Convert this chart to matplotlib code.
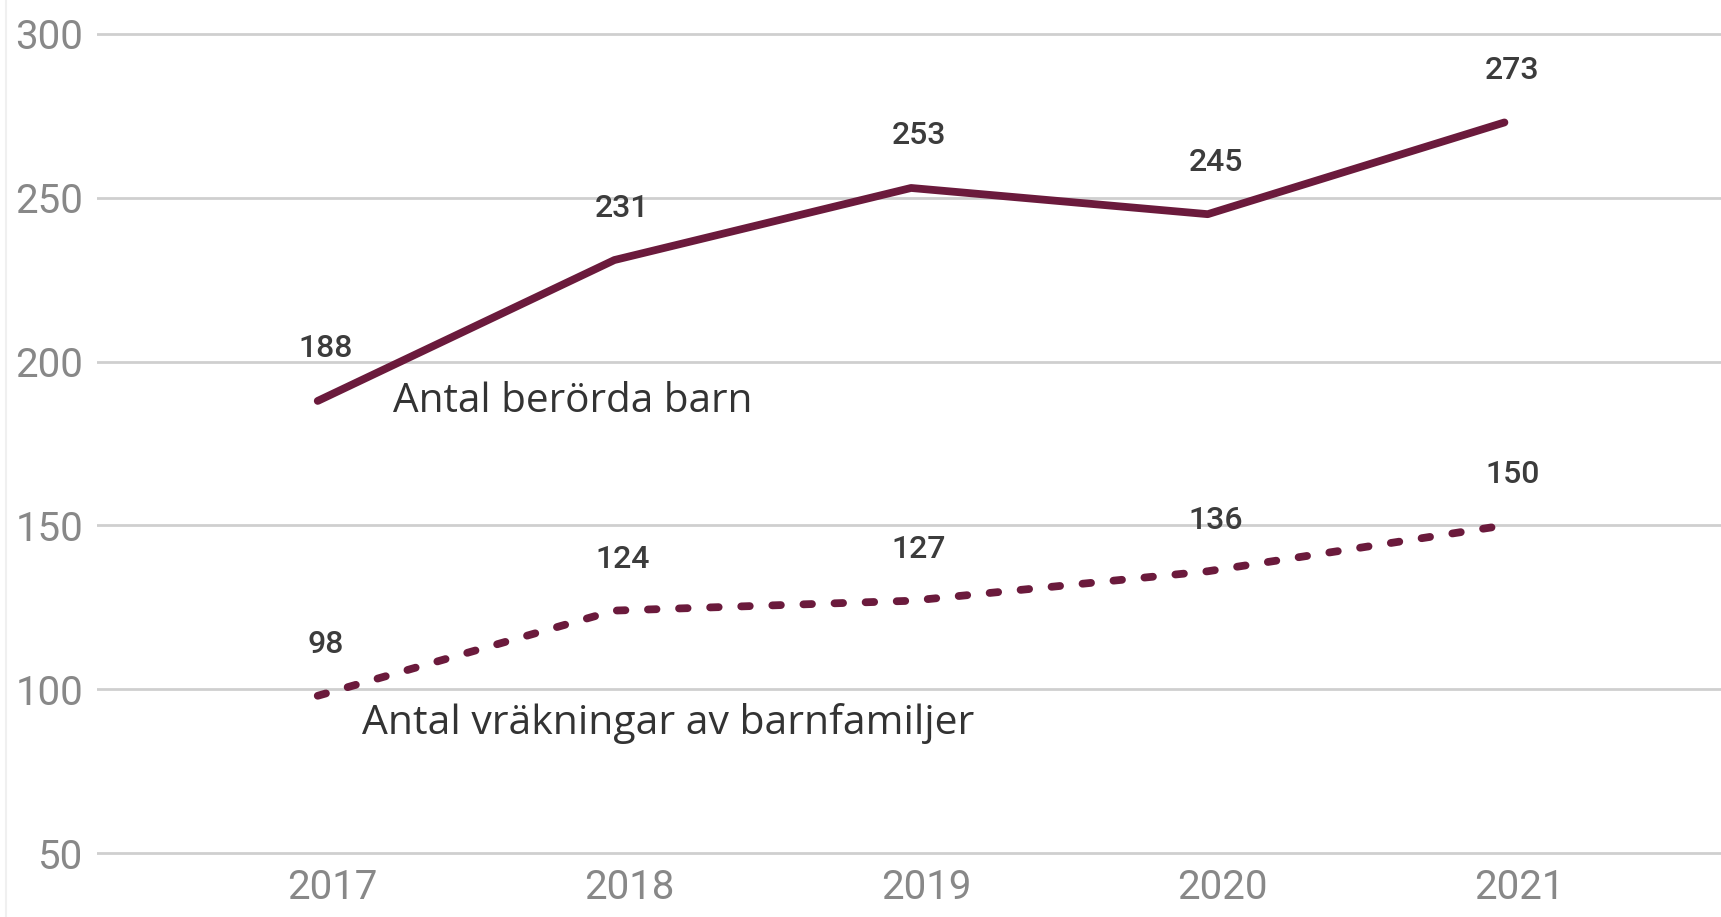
import matplotlib
matplotlib.use("Agg")
import matplotlib.pyplot as plt
from matplotlib.lines import Line2D
import matplotlib.transforms as mtransforms

years = [2017, 2018, 2019, 2020, 2021]
children = [188, 231, 253, 245, 273]
evictions = [98, 124, 127, 136, 150]
y_ticks = [50, 100, 150, 200, 250, 300]
label_children = "Antal berörda barn"
label_evictions = "Antal vräkningar av barnfamiljer"

color = "#6b1a3c"

fig = plt.figure(figsize=(17.21, 9.17), dpi=100)
ax = fig.add_axes([97 / 1721, 0.0519, 1 - 97 / 1721, 0.9289])

ax.plot(years, children, color=color, lw=5.6, solid_capstyle="round", solid_joinstyle="round")
ax.plot(years, evictions, color=color, lw=5.6, dash_capstyle="round",
        linestyle=(0, (1.1, 2.9)))

for x, y in zip(years, children):
    ax.annotate(str(y), (x, y), xytext=(8, 52), textcoords="offset pixels",
                ha="center", va="center", fontsize=23, fontfamily="Roboto",
                fontweight="medium", color="#3c3c3c")
for x, y in zip(years, evictions):
    ax.annotate(str(y), (x, y), xytext=(8, 51), textcoords="offset pixels",
                ha="center", va="center", fontsize=23, fontfamily="Roboto",
                fontweight="medium", color="#3c3c3c")

ax.annotate(label_children, (years[0], children[0]), xytext=(75, -1),
            textcoords="offset pixels", ha="left", va="center", fontsize=29.2,
            fontfamily="Open Sans", color="#333333")
ax.annotate(label_evictions, (years[0], evictions[0]), xytext=(44, -28),
            textcoords="offset pixels", ha="left", va="center", fontsize=29.4,
            fontfamily="Open Sans", color="#333333")

ax.set_xlim(2016.256, 2021.73)
ax.set_ylim(45, 305)
ax.set_yticks(y_ticks)
ax.set_xticks(years)
ax.set_xticklabels([str(y) for y in years])
ax.grid(axis="y", color="#cfcfcf", lw=2)
ax.set_axisbelow(True)
for s in ax.spines.values():
    s.set_visible(False)
ax.tick_params(axis="both", length=0, labelsize=29, labelcolor="#888888")
ax.tick_params(axis="y", pad=10)
ax.tick_params(axis="x", pad=-1)
for lab in ax.get_xticklabels() + ax.get_yticklabels():
    lab.set_fontfamily("Roboto")
    lab.set_fontweight("normal")
offset = mtransforms.ScaledTranslation(15 / 100, 0, fig.dpi_scale_trans)
for lab in ax.get_xticklabels():
    lab.set_transform(lab.get_transform() + offset)

fig.add_artist(Line2D([6 / 1721, 6 / 1721], [0, 1], color="#f0f0f0", lw=1.5,
                      transform=fig.transFigure))

fig.savefig("out.png", dpi=100, facecolor="white")
